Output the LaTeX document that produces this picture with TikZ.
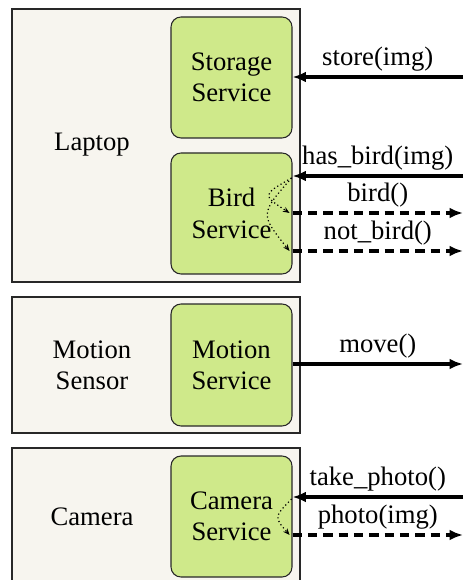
\documentclass[tikz,border=0pt]{standalone}
\usepackage{fontspec}
\setmainfont{Liberation Serif}
\usetikzlibrary{arrows.meta}
\definecolor{devfill}{RGB}{247,245,239}
\definecolor{svcfill}{RGB}{207,233,138}
\definecolor{edge}{RGB}{40,40,40}
\begin{document}
\begin{tikzpicture}[x=0.75pt,y=-0.75pt,
  font={\fontspec{Liberation Serif}\fontsize{20}{23.5}\selectfont},
  device/.style={draw=edge,fill=devfill,line width=0.8pt,minimum width=216pt,inner sep=0pt},
  service/.style={draw=edge,fill=svcfill,line width=0.8pt,rounded corners=7.5pt,minimum width=90.75pt,minimum height=90.75pt,align=center,inner sep=0pt},
  devlabel/.style={align=center},
  call/.style={line width=2.4pt,-{Latex[length=10pt,width=8pt]}},
  reply/.style={line width=2.4pt,dash pattern=on 7pt off 4.5pt,-{Latex[length=10pt,width=8pt]}},
  msg/.style={midway,above,inner sep=3pt},
  ret/.style={line width=0.9pt,dotted,-{Stealth[length=5pt,width=4pt]}}]
\useasboundingbox (0,0) rectangle (463,580);
% devices
\node[device,minimum height=204.75pt] (laptop) at (156,145.5) {};
\node[device,minimum height=102pt] (sensor) at (156,365) {};
\node[device,minimum height=106.5pt] (camera) at (156,519) {};
\node[devlabel] (laptopL) at (92,145) {Laptop};
\node[devlabel] (sensorL) at (92,365) {Motion\\Sensor};
\node[devlabel] (cameraL) at (92,517) {Camera};
% services
\node[service] (storage) at (231.5,77.5) {Storage\\Service};
\node[service] (bird) at (231.5,213.5) {Bird\\Service};
\node[service,minimum height=91.5pt] (motion) at (231.5,365) {Motion\\Service};
\node[service] (camsvc) at (231.5,516.5) {Camera\\Service};
% free ends
\coordinate (storeR) at (463,77);
\coordinate (hasR) at (463,176);
\coordinate (birdR) at (463,213);
\coordinate (notR) at (463,251);
\coordinate (moveR) at (463,364);
\coordinate (takeR) at (463,497);
\coordinate (photoR) at (463,535);
% messages
\draw[call] (storeR) -- (storeR -| storage.east) node[msg] {store(img)};
\draw[call] (hasR) -- (hasR -| bird.east) node[msg] {has\_bird(img)};
\draw[reply] (birdR -| bird.east) -- (birdR) node[msg] {bird()};
\draw[reply] (notR -| bird.east) -- (notR) node[msg] {not\_bird()};
\draw[call] (moveR -| motion.east) -- (moveR) node[msg] {move()};
\draw[call] (takeR) -- (takeR -| camsvc.east) node[msg] {take\_photo()};
\draw[reply] (photoR -| camsvc.east) -- (photoR) node[msg] {photo(img)};
% internal returns
\coordinate (hasIn) at ([shift={(-1,2)}]hasR -| bird.east);
\coordinate (takeIn) at ([shift={(-1,2)}]takeR -| camsvc.east);
\draw[ret] (hasIn) .. controls (262,195) .. ([shift={(-3,0)}]birdR -| bird.east);
\draw[ret] (hasIn) .. controls (260,214) .. ([shift={(-3,0)}]notR -| bird.east);
\draw[ret] (takeIn) .. controls (274,517) .. ([shift={(-3,0)}]photoR -| camsvc.east);
\end{tikzpicture}
\end{document}
